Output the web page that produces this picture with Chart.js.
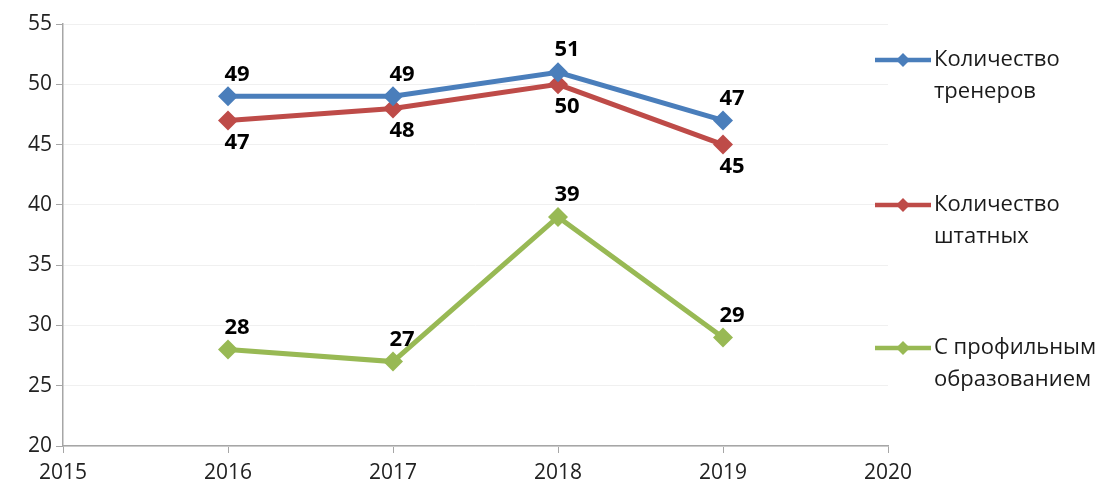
<!DOCTYPE html>
<html><head><meta charset="utf-8">
<script src="https://cdn.jsdelivr.net/npm/chart.js@4"></script>
<style>html,body{margin:0;padding:0;background:#fff}#wrap{width:1106px;height:491px}</style>
</head><body><div id="wrap"><canvas id="c" width="1106" height="491"></canvas></div>
<script>
const years = [2016, 2017, 2018, 2019];
const seriesNames = [["Количество", "тренеров"], ["Количество", "штатных"], ["С профильным", "образованием"]];
const trainers = [49, 49, 51, 47];
const staff = [47, 48, 50, 45];
const specialized = [28, 27, 39, 29];
const xTicks = [2015, 2016, 2017, 2018, 2019, 2020];
const yTicks = [20, 25, 30, 35, 40, 45, 50, 55];
const colors = ["#4A7EBB", "#BE4B48", "#98B954"];
const labelPos = ["above", "below", "above"];

function pts(vals){ return years.map((y,i)=>({x:y, y:vals[i]})); }

const dataLabels = {
  id: 'dataLabels',
  afterDatasetsDraw(chart){
    const ctx = chart.ctx;
    ctx.save();
    ctx.font = 'bold 22px "Open Sans", sans-serif';
    ctx.fillStyle = '#000';
    ctx.textAlign = 'center';
    ctx.textBaseline = 'middle';
    chart.data.datasets.forEach((ds, di) => {
      const meta = chart.getDatasetMeta(di);
      meta.data.forEach((p, i) => {
        const dy = labelPos[di] === 'above' ? -22 : 22;
        ctx.fillText(String(ds.data[i].y), p.x + 9, p.y + dy);
      });
    });
    ctx.restore();
  }
};

const customLegend = {
  id: 'customLegend',
  afterDraw(chart){
    const ctx = chart.ctx;
    const ys = [60, 205, 348];
    ctx.save();
    ctx.font = '22px "Open Sans", sans-serif';
    ctx.textBaseline = 'middle';
    ctx.textAlign = 'left';
    chart.data.datasets.forEach((ds, di) => {
      const y = ys[di];
      ctx.strokeStyle = ds.borderColor;
      ctx.lineWidth = 4.5;
      ctx.beginPath(); ctx.moveTo(875, y); ctx.lineTo(931, y); ctx.stroke();
      ctx.fillStyle = ds.borderColor;
      const r = 7;
      ctx.beginPath(); ctx.moveTo(903, y - r); ctx.lineTo(903 + r, y); ctx.lineTo(903, y + r); ctx.lineTo(903 - r, y); ctx.closePath(); ctx.fill();
      ctx.fillStyle = '#1a1a1a';
      seriesNames[di].forEach((t, li) => ctx.fillText(t, 934, y + li * 32));
    });
    ctx.restore();
  }
};

new Chart(document.getElementById('c'), {
  type: 'line',
  data: {
    datasets: [trainers, staff, specialized].map((v, i) => ({
      label: seriesNames[i].join(' '),
      data: pts(v),
      borderColor: colors[i],
      backgroundColor: colors[i],
      borderWidth: 5,
      pointStyle: 'rectRot',
      pointRadius: 10,
      pointHoverRadius: 10,
      pointBorderWidth: 0,
      tension: 0
    }))
  },
  options: {
    responsive: false,
    animation: false,
    layout: { padding: { left: 0, top: 24, right: 218, bottom: 0 } },
    plugins: { legend: { display: false }, tooltip: { enabled: false } },
    scales: {
      x: {
        type: 'linear', min: 2015, max: 2020,
        afterBuildTicks(s){ s.ticks = xTicks.map(v => ({value: v})); },
        afterFit(s){ s.height = 45; },
        ticks: { callback: v => String(v), color: '#222', font: { family: '"Open Sans", sans-serif', size: 21 }, padding: 7, maxRotation: 0 },
        grid: { drawOnChartArea: false, drawTicks: true, tickLength: 7, color: '#a6a6a6' },
        border: { color: '#a6a6a6', width: 1.5 }
      },
      y: {
        min: 20, max: 55,
        afterBuildTicks(s){ s.ticks = yTicks.map(v => ({value: v})); },
        afterFit(s){ s.width = 63; },
        ticks: { color: '#222', font: { family: '"Open Sans", sans-serif', size: 21 }, padding: 4 },
        grid: { color: '#f0f0f0', tickColor: '#a6a6a6', tickLength: 7 },
        border: { color: '#a6a6a6', width: 1.5 }
      }
    }
  },
  plugins: [dataLabels, customLegend]
});
</script></body></html>
